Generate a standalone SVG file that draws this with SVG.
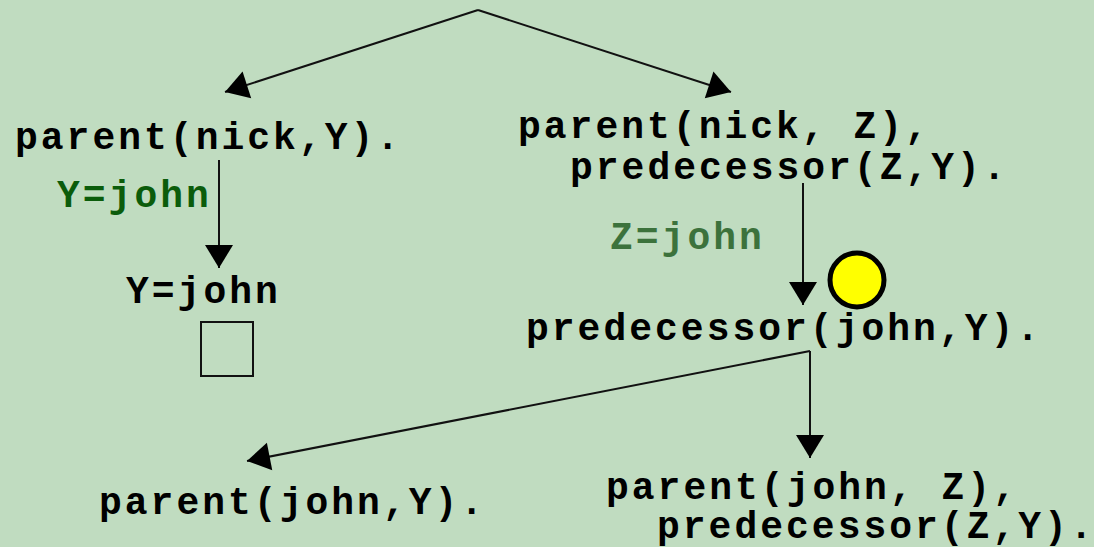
<svg xmlns="http://www.w3.org/2000/svg" width="1094" height="547" viewBox="0 0 1094 547">
  <defs>
    <style>
      .goal, .bind1, .bind2 { font-family: "Liberation Mono", "Courier New", monospace; font-weight: bold; font-size: 38px; letter-spacing: 3px; }
      .goal { fill: #000; }
      .bind1 { fill: #0b5c0b; }
      .bind2 { fill: #3c723c; }
      .edge { fill: none; stroke: #111; stroke-width: 2; }
    </style>
    <marker id="head" viewBox="-24 -15 26 30" refX="0" refY="0" markerWidth="26" markerHeight="30" markerUnits="userSpaceOnUse" orient="auto">
      <path d="M0,0 L-23,-14 L-23,14 Z" fill="#000"/>
    </marker>
  </defs>

  <rect width="1094" height="547" fill="#c0dcc0"/>

  <!-- search tree edges -->
  <g id="connectors">
    <path class="edge" d="M478,10 L225,92" marker-end="url(#head)"/>
    <path class="edge" d="M478,10 L731,92" marker-end="url(#head)"/>
    <path class="edge" d="M219,160 L219,268" marker-end="url(#head)"/>
    <path class="edge" d="M803,183 L803,305" marker-end="url(#head)"/>
    <path class="edge" d="M810,351 L247,461" marker-end="url(#head)"/>
    <path class="edge" d="M810,351 L810,458" marker-end="url(#head)"/>
  </g>

  <g id="goal-parent-nick-y">
    <text class="goal" x="15" y="149">parent(nick,Y).</text>
  </g>

  <g id="binding-y-john">
    <text class="bind1" x="57" y="207">Y=john</text>
  </g>

  <g id="answer-y-john">
    <text class="goal" x="126" y="303">Y=john</text>
    <rect x="201" y="322" width="52" height="54" fill="none" stroke="#111" stroke-width="2"/>
  </g>

  <g id="goal-parent-nick-z">
    <text class="goal" x="518" y="138">parent(nick, Z),</text>
    <text class="goal" x="570" y="179">predecessor(Z,Y).</text>
  </g>

  <g id="binding-z-john">
    <text class="bind2" x="610" y="249">Z=john</text>
  </g>

  <g id="marker-current">
    <circle cx="857" cy="280" r="27" fill="#ffff00" stroke="#000" stroke-width="5"/>
  </g>

  <g id="goal-predecessor-john-y">
    <text class="goal" x="526" y="340">predecessor(john,Y).</text>
  </g>

  <g id="goal-parent-john-y">
    <text class="goal" x="99" y="514">parent(john,Y).</text>
  </g>

  <g id="goal-parent-john-z">
    <text class="goal" x="606" y="499">parent(john, Z),</text>
    <text class="goal" x="657" y="538">predecessor(Z,Y).</text>
  </g>
</svg>
